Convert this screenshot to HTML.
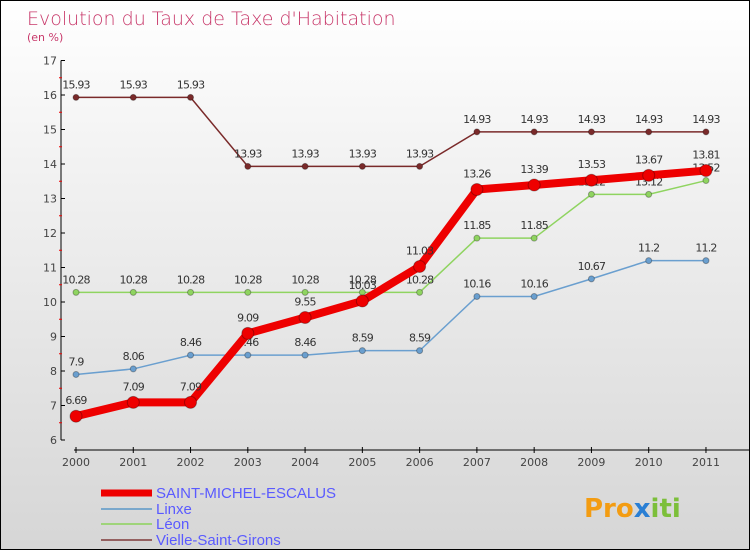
<!DOCTYPE html>
<html><head><meta charset="utf-8"><style>
body{margin:0}
#c{width:748px;height:548px;border:1px solid #000;background:linear-gradient(#ffffff,#f2f2f2 30%,#d6d6d6);position:relative;font-family:"DejaVu Sans","Liberation Sans",sans-serif}
</style></head><body>
<div id="c">
<svg id="s" width="748" height="548" xmlns="http://www.w3.org/2000/svg" font-family="DejaVu Sans, Liberation Sans, sans-serif">
<text x="26" y="24" font-size="19" fill="#c8386a" style="font-weight:200">Evolution du Taux de Taxe d'Habitation</text>
<text x="26" y="40" font-size="11" fill="#c8386a">(en %)</text>
<g id="ax"></g><g id="ser"></g><g id="leg"></g>
<text x="583" y="516" font-size="26" font-weight="bold" fill="#f39c12">Pro<tspan fill="#2a7fd4">x</tspan><tspan fill="#7cbf3a">iti</tspan></text>
</svg></div>
<script>
const years=[2000,2001,2002,2003,2004,2005,2006,2007,2008,2009,2010,2011];
const yTicks=[6,7,8,9,10,11,12,13,14,15,16,17];
const sStMichel=[6.69,7.09,7.09,9.09,9.55,10.03,11.03,13.26,13.39,13.53,13.67,13.81];
const sLinxe=[7.9,8.06,8.46,8.46,8.46,8.59,8.59,10.16,10.16,10.67,11.2,11.2];
const sLeon=[10.28,10.28,10.28,10.28,10.28,10.28,10.28,11.85,11.85,13.12,13.12,13.52];
const sVielle=[15.93,15.93,15.93,13.93,13.93,13.93,13.93,14.93,14.93,14.93,14.93,14.93];
const NS="http://www.w3.org/2000/svg";
const X=i=>75+i*57.27, Y=v=>439-(v-6)*34.5;
function mk(t,a,p){const e=document.createElementNS(NS,t);for(const k in a)e.setAttribute(k,a[k]);p.appendChild(e);return e;}
const ax=document.getElementById('ax');
let l=mk('line',{x1:60,y1:Y(17),x2:60,y2:Y(6),stroke:'#000'},ax);


l=mk('line',{x1:X(0)-2,y1:449,x2:748,y2:449,stroke:'#000'},ax);


yTicks.forEach(v=>{mk('line',{x1:60,y1:Y(v),x2:64,y2:Y(v),stroke:'#000'},ax);
 if(v<17)mk('line',{x1:58,y1:Y(v+0.5),x2:61,y2:Y(v+0.5),stroke:'#e00'},ax);
 const t=mk('text',{x:56,y:Y(v)+4,'font-size':11,fill:'#444','text-anchor':'end'},ax);t.textContent=v;
 
 });
years.forEach((y,i)=>{mk('line',{x1:X(i),y1:446,x2:X(i),y2:452,stroke:'#000'},ax);
 const t=mk('text',{x:X(i),y:465,'font-size':11,fill:'#444','text-anchor':'middle'},ax);t.textContent=y;
 
 });
const ser=document.getElementById('ser');
function draw(data,col,w,r,name){
 const g=mk('g',{},ser);
 
 
 mk('polyline',{points:data.map((v,i)=>X(i)+','+Y(v)).join(' '),fill:'none',stroke:col,'stroke-width':w},g);
 data.forEach((v,i)=>{const c=mk('circle',{cx:X(i),cy:Y(v),r:r,fill:col,stroke:'rgba(0,0,0,0.3)'},g);
  
  
  const t=mk('text',{x:X(i),y:Y(v)-(r+6),'font-size':11,fill:'#333','text-anchor':'middle','letter-spacing':'-0.8'},g);t.textContent=v;});
}
draw(sLinxe,'#6a9fcf',1.5,3,'series-linxe');
draw(sLeon,'#8fd460',1.5,3,'series-leon');
draw(sVielle,'#7a2a2a',1.5,3,'series-vielle-saint-girons');
draw(sStMichel,'#ee0000',8,6,'series-saint-michel-escalus');
const leg=document.getElementById('leg');
[['SAINT-MICHEL-ESCALUS','#ee0000',7],['Linxe','#7aa8cc',2],['Léon','#9fd47a',2],['Vielle-Saint-Girons','#946060',2]].forEach((d,i)=>{
 const y=[492,508,523,539][i];
 const g=mk('g',{},leg);
 
 
 mk('line',{x1:100,y1:y,x2:151,y2:y,stroke:d[1],'stroke-width':d[2]},g);
 const t=mk('text',{x:155,y:y+5,'font-size':15,fill:'#5a5aff','font-family':'Liberation Sans, sans-serif'},g);t.textContent=d[0];
});
</script></body></html>
